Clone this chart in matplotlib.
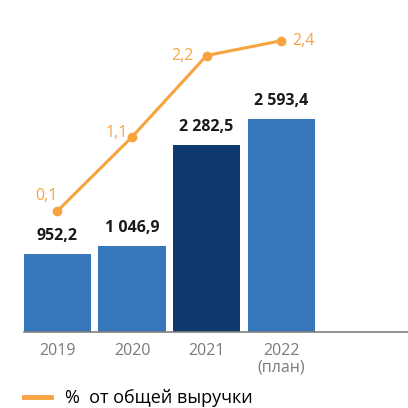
import numpy as np
import matplotlib.pyplot as plt
from matplotlib.lines import Line2D

plt.rcParams['font.family'] = ['Open Sans', 'DejaVu Sans']

# ── data ──────────────────────────────────────────
years = ['2019', '2020', '2021', '2022\n(план)']
revenue = [952.2, 1046.9, 2282.5, 2593.4]
revenue_labels = ['952,2', '1 046,9', '2 282,5', '2 593,4']
share = [0.1, 1.1, 2.2, 2.4]
share_labels = ['0,1', '1,1', '2,2', '2,4']

bar_colors = ['#3777bc', '#3777bc', '#0f3a6d', '#3777bc']
line_color = '#f7a440'

fig = plt.figure(figsize=(4.08, 4.08), dpi=100)
ax = fig.add_axes([0, 1 - 332 / 408, 1, 332 / 408])
x = np.arange(len(years))

ax.bar(x, revenue, width=0.9, color=bar_colors, zorder=2)
for xi, v, lab in zip(x, revenue, revenue_labels):
    ax.text(xi, v + 120, lab, ha='center', va='bottom', fontsize=11.5,
            fontweight='bold', color='#1a1a1a')

ax.set_xlim(-0.77, 4.7)
ax.set_ylim(0, 4044)
ax.set_yticks([])
ax.set_xticks(x)
ax.set_xticklabels(years, fontsize=11.5, color='#7a7a7a', linespacing=1.05)
ax.tick_params(axis='x', length=0, pad=8)
for s in ['top', 'right', 'left']:
    ax.spines[s].set_visible(False)
ax.spines['bottom'].set_color('#808080')
ax.spines['bottom'].set_linewidth(1.2)
ax.spines['bottom'].set_bounds(-0.45, 4.7)

# ── second axis: share line ───────────────────────
ax2 = ax.twinx()
ax2.set_ylim(-1.535, 2.95)
ax2.plot(x, share, color=line_color, lw=2.2, marker='o', ms=6, zorder=3)
offsets = [(-0.15, 0.2), (-0.2, 0.05), (-0.33, 0.0), (0.3, 0.0)]
for xi, v, lab, (dx, dy) in zip(x, share, share_labels, offsets):
    ax2.text(xi + dx, v + dy, lab, ha='center', va='center', fontsize=11.5,
             color=line_color)
ax2.axis('off')

handle = Line2D([], [], color=line_color, lw=3.5)
fig.legend(handles=[handle], labels=['%  от общей выручки'], loc='center left',
           bbox_to_anchor=(0.058, 10 / 408), frameon=False,
           handlelength=1.5, handletextpad=0.8, borderaxespad=0, borderpad=0,
           prop={'size': 13})

fig.savefig('out.png', dpi=100)
